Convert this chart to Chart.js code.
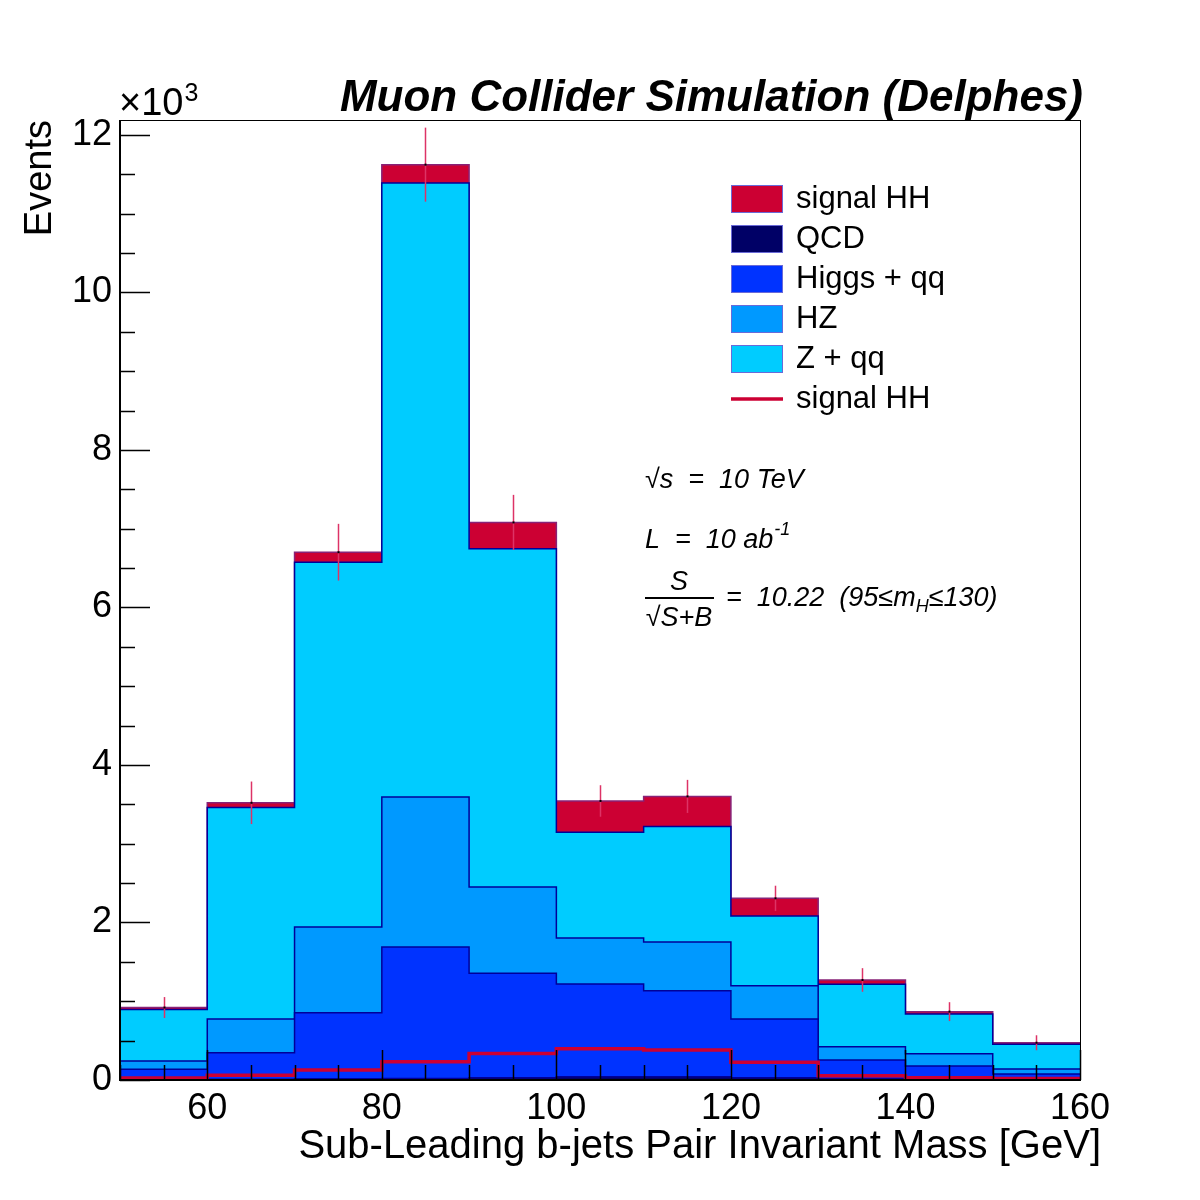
<!DOCTYPE html>
<html>
<head>
<meta charset="utf-8">
<script src="https://cdn.jsdelivr.net/npm/chart.js@4.4.1/dist/chart.umd.min.js"></script>
<style>
  html, body { margin: 0; padding: 0; background: #fff; }
  #c { display: block; }
</style>
</head>
<body>
<canvas id="c" width="1200" height="1200"></canvas>
<script>
// bin lower edges in GeV, all bins 10 GeV wide
const binLow = [50, 60, 70, 80, 90, 100, 110, 120, 130, 140, 150];
const binWidth = 10;

// events per bin in units of 10^3, stacked bottom -> top
const qcd      = [0.010, 0.010, 0.015, 0.020, 0.030, 0.040, 0.040, 0.030, 0.020, 0.010, 0.010];
const higgsQQ  = [0.126, 0.337, 0.840, 1.669, 1.325, 1.179, 1.094, 0.745, 0.234, 0.168, 0.066];
const hz       = [0.105, 0.428, 1.088, 1.905, 1.095, 0.584, 0.618, 0.423, 0.169, 0.156, 0.064];
const zQQ      = [0.654, 2.685, 4.632, 7.796, 4.295, 1.342, 1.468, 0.885, 0.792, 0.504, 0.313];
const signalHH = [0.025, 0.060, 0.127, 0.233, 0.335, 0.398, 0.381, 0.224, 0.055, 0.030, 0.020];
// error on the stacked total
const totalErr = [0.133, 0.270, 0.360, 0.470, 0.350, 0.200, 0.210, 0.160, 0.150, 0.120, 0.095];

const xTicksMajor = [60, 80, 100, 120, 140, 160];
const yTicksMajor = [0, 2, 4, 6, 8, 10, 12];
const yMax = 12.19;

const FONT = '"Liberation Sans", Arial, Helvetica, sans-serif';
const OUTLINE = '#000099';

function stepData(values) {
  const pts = binLow.map((x, i) => ({ x, y: values[i] }));
  pts.push({ x: binLow[binLow.length - 1] + binWidth, y: values[values.length - 1] });
  return pts;
}

function layer(label, values, fillColor, fill, lineColor) {
  return {
    label,
    data: stepData(values),
    stepped: 'before',
    fill,
    backgroundColor: fillColor,
    borderColor: lineColor || OUTLINE,
    borderWidth: 1.5,
    pointRadius: 0,
    stack: 'bkg',
  };
}

const legendItems = [
  { label: 'signal HH', color: '#cc0033', box: true },
  { label: 'QCD', color: '#000066', box: true },
  { label: 'Higgs + qq', color: '#0033ff', box: true },
  { label: 'HZ', color: '#0099ff', box: true },
  { label: 'Z + qq', color: '#00ccff', box: true },
  { label: 'signal HH', color: '#cc0033', box: false },
];

const rootStyle = {
  id: 'rootStyle',
  afterDatasetsDraw(chart) {
    const { ctx, chartArea: a, scales: { x, y } } = chart;
    ctx.save();
    // error bars on the stacked total
    binLow.forEach((lo, i) => {
      const total = qcd[i] + higgsQQ[i] + hz[i] + zQQ[i] + signalHH[i];
      const xc = Math.round(x.getPixelForValue(lo + binWidth / 2)) + 0.5;
      const yt = y.getPixelForValue(total);
      ctx.strokeStyle = '#dd3366';
      ctx.lineWidth = 1.5;
      ctx.beginPath();
      ctx.moveTo(xc, y.getPixelForValue(total + totalErr[i]));
      ctx.lineTo(xc, y.getPixelForValue(total - totalErr[i]));
      ctx.stroke();
      ctx.fillStyle = '#000';
      ctx.fillRect(xc - 1, yt - 1, 2, 2);
    });
    // frame
    ctx.strokeStyle = '#000';
    ctx.lineWidth = 1;
    ctx.strokeRect(a.left + 0.5, a.top + 0.5, a.right - a.left, a.bottom - a.top);
    ctx.lineWidth = 2;
    ctx.beginPath();
    ctx.moveTo(a.left, a.top);
    ctx.lineTo(a.left, a.bottom);
    ctx.lineTo(a.right, a.bottom);
    ctx.stroke();
    // inward ticks
    ctx.lineWidth = 1.5;
    ctx.beginPath();
    y.ticks.forEach((t) => {
      const v = t.value;
      if (Math.abs(v * 2 - Math.round(v * 2)) > 1e-6) return;
      const len = yTicksMajor.some((m) => Math.abs(m - v) < 1e-6) ? 30 : 15;
      const py = Math.round(y.getPixelForValue(v)) + 0.5;
      ctx.moveTo(a.left, py);
      ctx.lineTo(a.left + len, py);
    });
    x.ticks.forEach((t) => {
      const v = t.value;
      if (Math.abs(v / 5 - Math.round(v / 5)) > 1e-6) return;
      const len = xTicksMajor.includes(v) ? 30 : 15;
      const px = Math.round(x.getPixelForValue(v)) + 0.5;
      ctx.moveTo(px, a.bottom);
      ctx.lineTo(px, a.bottom - len);
    });
    ctx.stroke();
    ctx.restore();
  },
  afterDraw(chart) {
    const { ctx } = chart;
    ctx.save();
    ctx.fillStyle = '#000';
    ctx.textBaseline = 'alphabetic';

    // axis multiplier
    ctx.textAlign = 'left';
    ctx.font = `38px ${FONT}`;
    ctx.fillText('\u00d710', 119, 115);
    const w10 = ctx.measureText('\u00d710').width;
    ctx.font = `25px ${FONT}`;
    ctx.fillText('3', 119 + w10 + 1, 101);

    // title
    ctx.textAlign = 'right';
    ctx.font = `italic bold 44px ${FONT}`;
    ctx.fillText('Muon Collider Simulation (Delphes)', 1083, 111);

    // axis titles
    ctx.font = `40px ${FONT}`;
    ctx.fillText('Sub-Leading b-jets Pair Invariant Mass [GeV]', 1101, 1158);
    ctx.save();
    ctx.translate(51, 120);
    ctx.rotate(-Math.PI / 2);
    ctx.font = `38px ${FONT}`;
    ctx.textAlign = 'right';
    ctx.fillText('Events', 0, 0);
    ctx.restore();

    // legend
    ctx.textAlign = 'left';
    ctx.textBaseline = 'middle';
    legendItems.forEach((it, i) => {
      const cy = 199 + i * 40;
      if (it.box) {
        ctx.fillStyle = it.color;
        ctx.fillRect(731, cy - 14, 52, 28);
        ctx.strokeStyle = '#6a6ad8';
        ctx.lineWidth = 1;
        ctx.strokeRect(731.5, cy - 13.5, 51, 27);
      } else {
        ctx.strokeStyle = it.color;
        ctx.lineWidth = 3.5;
        ctx.beginPath();
        ctx.moveTo(731, cy);
        ctx.lineTo(783, cy);
        ctx.stroke();
      }
      ctx.fillStyle = '#000';
      ctx.font = `31px ${FONT}`;
      ctx.fillText(it.label, 796, cy);
    });

    // annotations
    const it = `italic 27px ${FONT}`;
    const small = `italic 18px ${FONT}`;
    ctx.font = it;
    ctx.fillText('\u221as  =  10 TeV', 645, 480);
    ctx.fillText('L  =  10 ab', 645, 540);
    let w = ctx.measureText('L  =  10 ab').width;
    ctx.font = small;
    ctx.fillText('-1', 645 + w + 1, 530);

    ctx.font = it;
    ctx.textAlign = 'center';
    ctx.fillText('S', 679, 582);
    ctx.fillText('\u221aS+B', 679, 618);
    ctx.fillRect(645, 597, 69, 2);
    ctx.textAlign = 'left';
    const part1 = '=  10.22  (95\u2264m';
    ctx.fillText(part1, 726, 598);
    w = ctx.measureText(part1).width;
    ctx.font = small;
    ctx.fillText('H', 726 + w, 607);
    const wH = ctx.measureText('H').width;
    ctx.font = it;
    ctx.fillText('\u2264130)', 726 + w + wH, 598);
    ctx.restore();
  },
};

new Chart(document.getElementById('c'), {
  type: 'line',
  data: {
    datasets: [
      layer('QCD', qcd, '#000066', 'origin'),
      layer('Higgs + qq', higgsQQ, '#0033ff', '-1'),
      layer('HZ', hz, '#0099ff', '-1'),
      layer('Z + qq', zQQ, '#00ccff', '-1'),
      layer('signal HH', signalHH, '#cc0033', '-1', '#882277'),
      {
        label: 'signal HH line',
        data: stepData(signalHH),
        stepped: 'before',
        fill: false,
        borderColor: '#cc0033',
        borderWidth: 3.5,
        pointRadius: 0,
        stack: 'line',
        order: -1,
      },
    ],
  },
  options: {
    responsive: false,
    animation: false,
    events: [],
    layout: { padding: { top: 120, right: 120, left: 0, bottom: 0 } },
    plugins: { legend: { display: false }, tooltip: { enabled: false } },
    scales: {
      x: {
        type: 'linear',
        min: 50,
        max: 160,
        grid: { display: false, drawTicks: false },
        border: { display: false },
        ticks: {
          stepSize: 5,
          autoSkip: false,
          includeBounds: false,
          maxRotation: 0,
          padding: 7,
          color: '#000',
          font: { family: FONT, size: 36 },
          callback: (v) => (xTicksMajor.includes(v) ? String(v) : ''),
        },
        afterFit: (s) => { s.height = 120; },
      },
      y: {
        stacked: true,
        min: 0,
        max: yMax,
        grid: { display: false, drawTicks: false },
        border: { display: false },
        ticks: {
          stepSize: 0.5,
          autoSkip: false,
          includeBounds: false,
          padding: 8,
          color: '#000',
          font: { family: FONT, size: 36 },
          callback: (v) => (yTicksMajor.includes(v) ? String(v) : ''),
        },
        afterFit: (s) => { s.width = 120; },
      },
    },
  },
  plugins: [rootStyle],
});
</script>
</body>
</html>
